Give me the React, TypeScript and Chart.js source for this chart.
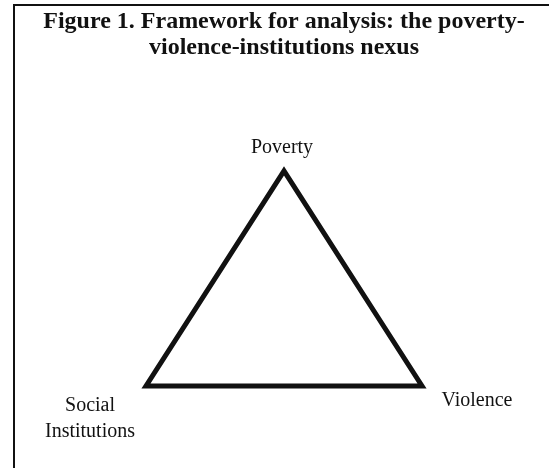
import React, { useEffect, useRef } from "react";
import { Chart, registerables } from "chart.js";

Chart.register(...registerables);

// Diagram content
const titleLines = [
  "Figure 1. Framework for analysis: the poverty-",
  "violence-institutions nexus",
];
const nodeNames = ["Poverty", "Violence", "Social Institutions"];
const nodeLabelLines = [["Poverty"], ["Violence"], ["Social", "Institutions"]];
const nodeX = [0.5, 1, 0];
const nodeY = [1, 0, 0];
// order in which the triangle edges are traced (closing back over the first edge)
const pathOrder = [0, 1, 2, 0, 1];

// label placement relative to each vertex (pixels) — styling only
const labelOffsets = [
  { dx: -2, dy: -18 },
  { dx: 55, dy: 20 },
  { dx: -56, dy: 25 },
];
const labelLineGap = 26;
const titleTop = 22;
const titleLineGap = 26;
const ink = "#111";
const serif = "'Liberation Serif', 'Times New Roman', serif";

const textPlugin = {
  id: "diagramText",
  afterDatasetsDraw(chart: any) {
    const { ctx, scales, chartArea } = chart;
    ctx.save();
    ctx.fillStyle = ink;
    ctx.textAlign = "center";

    // title, centred over the diagram
    ctx.font = `bold 24px ${serif}`;
    ctx.textBaseline = "middle";
    const cx = (chartArea.left + chartArea.right) / 2;
    titleLines.forEach((line, j) => {
      ctx.fillText(line, cx, titleTop + j * titleLineGap);
    });

    // vertex labels
    ctx.font = `20px ${serif}`;
    ctx.textBaseline = "alphabetic";
    nodeNames.forEach((_, i) => {
      const px = scales.x.getPixelForValue(nodeX[i]);
      const py = scales.y.getPixelForValue(nodeY[i]);
      const off = labelOffsets[i];
      nodeLabelLines[i].forEach((line, j) => {
        ctx.fillText(line, px + off.dx, py + off.dy + j * labelLineGap);
      });
    });
    ctx.restore();
  },
};

export default function App() {
  const canvasRef = useRef<HTMLCanvasElement | null>(null);

  useEffect(() => {
    if (!canvasRef.current) return;
    const chart = new Chart(canvasRef.current, {
      type: "scatter",
      data: {
        datasets: [
          {
            label: "nexus",
            data: pathOrder.map((i) => ({ x: nodeX[i], y: nodeY[i] })),
            showLine: true,
            borderColor: ink,
            borderWidth: 5,
            borderJoinStyle: "miter",
            borderCapStyle: "butt",
            pointRadius: 0,
            pointHoverRadius: 0,
            tension: 0,
            clip: false,
            fill: false,
          } as any,
        ],
      },
      options: {
        responsive: false,
        animation: false,
        devicePixelRatio: 1,
        events: [],
        layout: { padding: { left: 146, right: 127, top: 171, bottom: 82 } },
        scales: {
          x: { type: "linear", min: 0, max: 1, display: false },
          y: { type: "linear", min: 0, max: 1, display: false },
        },
        plugins: {
          legend: { display: false },
          tooltip: { enabled: false },
          title: { display: false },
        },
      },
      plugins: [textPlugin],
    });
    return () => chart.destroy();
  }, []);

  return (
    <div
      style={{
        position: "fixed",
        left: 0,
        top: 0,
        width: 549,
        height: 468,
        background: "#fff",
        overflow: "hidden",
      }}
    >
      <div
        style={{
          position: "absolute",
          left: 13,
          top: 4,
          width: 540,
          height: 470,
          borderTop: `2px solid ${ink}`,
          borderLeft: `2px solid ${ink}`,
          boxSizing: "border-box",
        }}
      />
      <canvas
        ref={canvasRef}
        width={549}
        height={468}
        style={{ position: "absolute", left: 0, top: 0, width: 549, height: 468 }}
      />
    </div>
  );
}
